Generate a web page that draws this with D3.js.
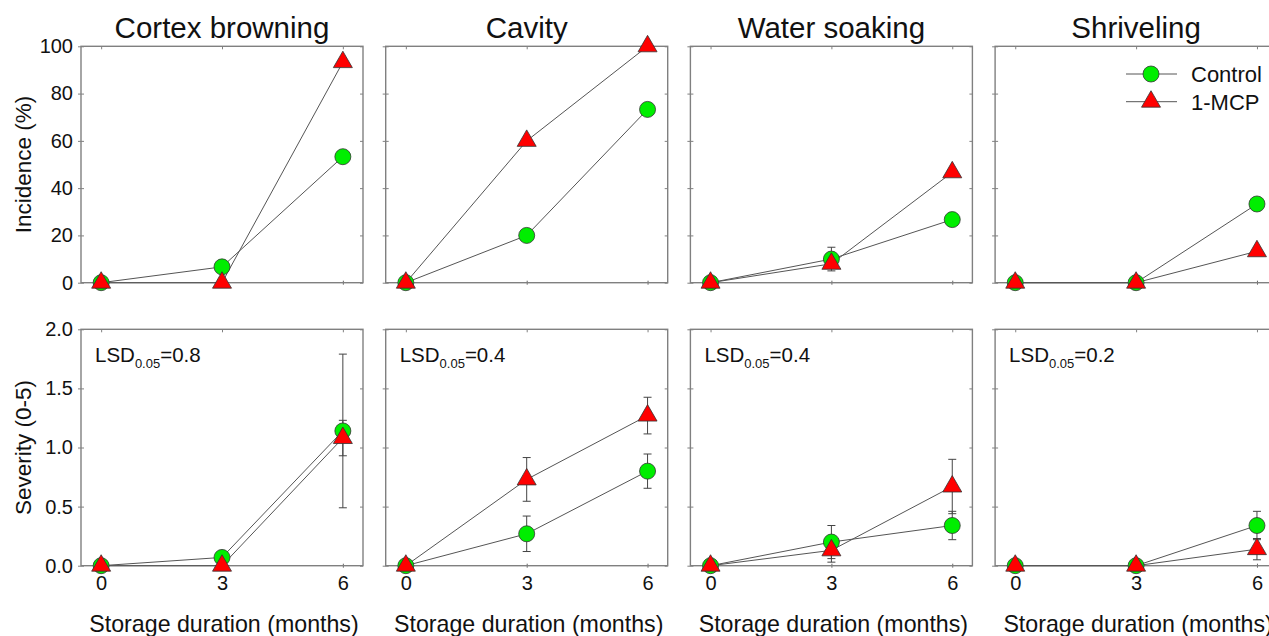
<!DOCTYPE html>
<html>
<head>
<meta charset="utf-8">
<script src="https://cdn.jsdelivr.net/npm/d3@7"></script>
<style>
  html, body { margin: 0; padding: 0; background: #fff; }
  svg { display: block; font-family: "Liberation Sans", Arial, sans-serif; }
</style>
</head>
<body>
<svg id="chart" width="1269" height="636"></svg>
<script>
// Storage months on the x axis
const months = [0, 3, 6];
const disorders = ["Cortex browning", "Cavity", "Water soaking", "Shriveling"];
const seriesNames = ["Control", "1-MCP"];

// Incidence (%) per disorder, values at 0, 3, 6 months
const incidenceControl = [[0, 6.7, 53.3], [0, 20, 73.3], [0, 10, 26.7], [0, 0, 33.3]];
const incidenceControlErr = [[0, 0, 0], [0, 0, 0], [0, 5, 0], [0, 0, 0]];
const incidenceMCP = [[0, 0, 93.3], [0, 60, 100], [0, 8, 46.7], [0, 0, 13.3]];
const incidenceMCPErr = [[0, 0, 0], [0, 0, 0], [0, 0, 0], [0, 0, 0]];

// Severity (0-5 scale) per disorder with error bars
const severityControl = [[0, 0.07, 1.14], [0, 0.27, 0.80], [0, 0.20, 0.34], [0, 0, 0.34]];
const severityControlErr = [[0, 0, 0.65], [0, 0.15, 0.145], [0, 0.14, 0.12], [0, 0, 0.12]];
const severityMCP = [[0, 0, 1.08], [0, 0.73, 1.27], [0, 0.13, 0.67], [0, 0, 0.14]];
const severityMCPErr = [[0, 0, 0.15], [0, 0.185, 0.155], [0, 0.10, 0.23], [0, 0, 0.09]];

// LSD values printed in the severity panels
const lsdValues = ["0.8", "0.4", "0.4", "0.2"];

// Axis ticks
const incidenceTicks = [0, 20, 40, 60, 80, 100];
const severityTicks = [0, 0.5, 1.0, 1.5, 2.0];

const svg = d3.select("#chart");

const panelW = 282;
const panelStep = 304.7;
const firstLeft = 81;
const rows = [
  { top: 46.3, bottom: 282.7, domain: [0, 100], ticks: incidenceTicks, fmt: d3.format("d"),
    ctrl: incidenceControl, ctrlErr: incidenceControlErr, mcp: incidenceMCP, mcpErr: incidenceMCPErr,
    ylabel: "Incidence (%)", xlabels: false },
  { top: 329.3, bottom: 565.7, domain: [0, 2], ticks: severityTicks, fmt: d3.format(".1f"),
    ctrl: severityControl, ctrlErr: severityControlErr, mcp: severityMCP, mcpErr: severityMCPErr,
    ylabel: "Severity (0-5)", xlabels: true }
];

const frameColor = "#808080";
const lineColor = "#555";
const green = "#00ee00";
const red = "#ff0000";

function trianglePath(side) {
  const h = side * Math.sqrt(3) / 2;
  return `M0,${-2 * h / 3}L${side / 2},${h / 3}L${-side / 2},${h / 3}Z`;
}

rows.forEach((row, ri) => {
  disorders.forEach((name, ci) => {
    const left = firstLeft + ci * panelStep;
    const x = d3.scaleLinear().domain([-0.5, 6.5]).range([left, left + panelW]);
    const y = d3.scaleLinear().domain(row.domain).range([row.bottom, row.top]);
    const g = svg.append("g");

    // Left axis: ticks crossing the frame, labels only on the first column
    const yAxis = g.append("g").attr("transform", `translate(${left},0)`)
      .call(d3.axisLeft(y).tickValues(row.ticks).tickSize(3).tickPadding(5)
        .tickFormat(ci === 0 ? row.fmt : () => ""));
    yAxis.select(".domain").remove();
    yAxis.selectAll(".tick line").attr("x1", 3).attr("stroke", frameColor);
    yAxis.selectAll(".tick text").attr("font-size", 20).attr("fill", "#111")
      .attr("font-family", "Liberation Sans, Arial, sans-serif");

    // Right mirror ticks (inside)
    const yAxisR = g.append("g").attr("transform", `translate(${left + panelW},0)`)
      .call(d3.axisLeft(y).tickValues(row.ticks).tickSize(3).tickFormat(() => ""));
    yAxisR.select(".domain").remove();
    yAxisR.selectAll(".tick line").attr("stroke", frameColor);

    // Bottom axis
    const xAxis = g.append("g").attr("transform", `translate(0,${row.bottom})`)
      .call(d3.axisBottom(x).tickValues(months).tickSize(2).tickPadding(8)
        .tickFormat(row.xlabels ? d3.format("d") : () => ""));
    xAxis.select(".domain").remove();
    xAxis.selectAll(".tick line").attr("y1", -2).attr("stroke", "#666");
    xAxis.selectAll(".tick text").attr("font-size", 20).attr("fill", "#111")
      .attr("font-family", "Liberation Sans, Arial, sans-serif");

    // Top mirror ticks (inside)
    const xAxisT = g.append("g").attr("transform", `translate(0,${row.top})`)
      .call(d3.axisBottom(x).tickValues(months).tickSize(3).tickFormat(() => ""));
    xAxisT.select(".domain").remove();
    xAxisT.selectAll(".tick line").attr("stroke", frameColor);

    // Frame
    g.append("rect")
      .attr("x", left).attr("y", row.top)
      .attr("width", panelW).attr("height", row.bottom - row.top)
      .attr("fill", "none").attr("stroke", frameColor).attr("stroke-width", 1.4);

    const line = d3.line().x((d, i) => x(months[i])).y(d => y(d));
    const series = [
      { vals: row.ctrl[ci], err: row.ctrlErr[ci], kind: "circle" },
      { vals: row.mcp[ci], err: row.mcpErr[ci], kind: "triangle" }
    ];

    // Connecting lines
    series.forEach(s => {
      g.append("path").datum(s.vals).attr("d", line)
        .attr("fill", "none").attr("stroke", lineColor).attr("stroke-width", 1);
    });

    // Error bars
    series.forEach(s => {
      s.vals.forEach((v, i) => {
        const e = s.err[i];
        if (!e) return;
        const cx = x(months[i]);
        const eb = g.append("g").attr("stroke", "#444").attr("stroke-width", 1);
        eb.append("line").attr("x1", cx).attr("x2", cx).attr("y1", y(v - e)).attr("y2", y(v + e));
        eb.append("line").attr("x1", cx - 4).attr("x2", cx + 4).attr("y1", y(v - e)).attr("y2", y(v - e));
        eb.append("line").attr("x1", cx - 4).attr("x2", cx + 4).attr("y1", y(v + e)).attr("y2", y(v + e));
      });
    });

    // Markers
    series.forEach(s => {
      s.vals.forEach((v, i) => {
        if (s.kind === "circle") {
          g.append("circle").attr("cx", x(months[i])).attr("cy", y(v)).attr("r", 8)
            .attr("fill", green).attr("stroke", "#333").attr("stroke-width", 0.8);
        } else {
          g.append("path").attr("d", trianglePath(19))
            .attr("transform", `translate(${x(months[i])},${y(v)})`)
            .attr("fill", red).attr("stroke", "#333").attr("stroke-width", 0.8);
        }
      });
    });

    const cxPanel = left + panelW / 2;
    if (ri === 0) {
      g.append("text").attr("x", cxPanel).attr("y", 38).attr("text-anchor", "middle")
        .attr("font-size", 29.5).attr("fill", "#111").text(name);
    } else {
      const t = g.append("text").attr("x", left + 14).attr("y", 362)
        .attr("font-size", 20.5).attr("fill", "#111");
      t.append("tspan").text("LSD");
      t.append("tspan").attr("font-size", 13).attr("dy", 6).text("0.05");
      t.append("tspan").attr("dy", -6).text("=" + lsdValues[ci]);
      g.append("text").attr("x", cxPanel + 2).attr("y", 632).attr("text-anchor", "middle")
        .attr("font-size", 23.2).attr("fill", "#111").text("Storage duration (months)");
    }
    if (ci === 0) {
      g.append("text")
        .attr("transform", `translate(31,${(row.top + row.bottom) / 2}) rotate(-90)`)
        .attr("text-anchor", "middle").attr("font-size", 22.5).attr("fill", "#111")
        .text(row.ylabel);
    }
  });
});

// Legend in the last incidence panel
const legend = svg.append("g");
const legendX = 1151, legendY = [74, 101.7];
seriesNames.forEach((n, i) => {
  const ly = legendY[i];
  legend.append("line").attr("x1", legendX - 25).attr("x2", legendX + 26)
    .attr("y1", ly).attr("y2", ly).attr("stroke", lineColor).attr("stroke-width", 1);
  if (i === 0) {
    legend.append("circle").attr("cx", legendX).attr("cy", ly).attr("r", 8)
      .attr("fill", green).attr("stroke", "#333").attr("stroke-width", 0.8);
  } else {
    legend.append("path").attr("d", trianglePath(19))
      .attr("transform", `translate(${legendX},${ly})`)
      .attr("fill", red).attr("stroke", "#333").attr("stroke-width", 0.8);
  }
  legend.append("text").attr("x", legendX + 40).attr("y", ly + 8)
    .attr("font-size", 22).attr("fill", "#111").text(n);
});
</script>
</body>
</html>
